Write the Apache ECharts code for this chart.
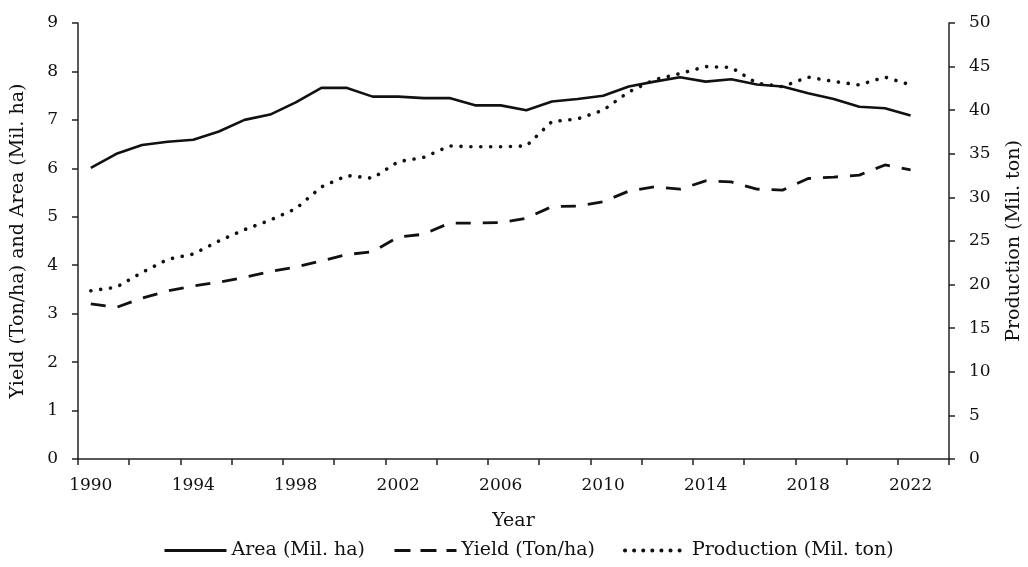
<!DOCTYPE html>
<html>
<head>
<meta charset="utf-8">
<script src="https://cdn.jsdelivr.net/npm/echarts@6/dist/echarts.min.js"></script>
<style>
  html, body { margin: 0; padding: 0; background: #fff; }
  #chart { width: 1028px; height: 567px; }
</style>
</head>
<body>
<div id="chart"></div>
<script>
// categories (2023 slot is empty, as in the source axis)
const years = ["1990","1991","1992","1993","1994","1995","1996","1997","1998","1999",
  "2000","2001","2002","2003","2004","2005","2006","2007","2008","2009",
  "2010","2011","2012","2013","2014","2015","2016","2017","2018","2019",
  "2020","2021","2022","2023"];

// Area (Mil. ha) - left axis
const area = [6.01, 6.30, 6.48, 6.55, 6.59, 6.76, 7.00, 7.11, 7.36, 7.66,
  7.66, 7.48, 7.48, 7.45, 7.45, 7.30, 7.30, 7.20, 7.38, 7.43,
  7.50, 7.69, 7.79, 7.88, 7.79, 7.84, 7.73, 7.69, 7.55, 7.43,
  7.27, 7.24, 7.09];

// Yield (Ton/ha) - left axis
const yieldTon = [3.20, 3.13, 3.32, 3.47, 3.57, 3.65, 3.75, 3.87, 3.96, 4.09,
  4.22, 4.28, 4.58, 4.64, 4.87, 4.87, 4.88, 4.97, 5.21, 5.22,
  5.31, 5.53, 5.62, 5.57, 5.74, 5.72, 5.57, 5.55, 5.79, 5.82,
  5.86, 6.07, 5.97];

// Production (Mil. ton) - right axis
const production = [19.3, 19.7, 21.4, 22.9, 23.5, 25.0, 26.3, 27.4, 28.7, 31.2,
  32.5, 32.2, 34.1, 34.6, 35.9, 35.8, 35.8, 35.9, 38.7, 39.0,
  40.0, 42.1, 43.5, 44.2, 45.0, 44.9, 43.1, 42.7, 43.8, 43.3,
  42.9, 43.8, 42.9];

const FONT = "DejaVu Serif";
const INK = "#111";
const AXIS = "#222";

const chart = echarts.init(document.getElementById("chart"));

const axisCommon = {
  axisLine: { show: true, lineStyle: { color: AXIS, width: 1.5 } },
  axisTick: { show: true, inside: false, length: 6, lineStyle: { color: AXIS, width: 1.5 } },
  splitLine: { show: false },
  nameTextStyle: { fontFamily: FONT, fontSize: 19, color: INK },
  axisLabel: { fontFamily: FONT, fontSize: 17, color: INK }
};

chart.setOption({
  animation: false,
  backgroundColor: "#fff",
  grid: { left: 78, right: 79, top: 23, bottom: 108, outerBoundsMode: "none" },
  legend: {
    bottom: 2,
    left: 158,
    itemWidth: 62,
    itemHeight: 12,
    itemGap: 28,
    itemStyle: { color: "transparent", borderWidth: 0 },
    lineStyle: { width: 3 },
    textStyle: { fontFamily: FONT, fontSize: 19, color: INK },
    data: [
      { name: "Area (Mil. ha)" },
      { name: "Yield (Ton/ha)", lineStyle: { width: 3, type: [16, 10] } },
      { name: "Production (Mil. ton)", lineStyle: { width: 4, type: [0.1, 9], cap: "round" } }
    ]
  },
  xAxis: {
    type: "category",
    data: years,
    boundaryGap: true,
    name: "Year",
    nameLocation: "middle",
    nameGap: 53,
    ...axisCommon,
    axisTick: { ...axisCommon.axisTick, interval: 1, alignWithLabel: false },
    axisLabel: { ...axisCommon.axisLabel, interval: 3, margin: 18 }
  },
  yAxis: [
    {
      type: "value",
      min: 0, max: 9, interval: 1,
      name: "Yield (Ton/ha) and Area (Mil. ha)",
      nameLocation: "middle",
      nameGap: 50,
      ...axisCommon,
      axisLabel: { ...axisCommon.axisLabel, margin: 20 }
    },
    {
      type: "value",
      position: "right",
      min: 0, max: 50, interval: 5,
      name: "Production (Mil. ton)",
      nameLocation: "middle",
      nameGap: 56,
      ...axisCommon,
      axisLabel: { ...axisCommon.axisLabel, margin: 20 }
    }
  ],
  series: [
    {
      name: "Area (Mil. ha)",
      type: "line",
      yAxisIndex: 0,
      data: area,
      symbol: "none",
      itemStyle: { color: INK },
      lineStyle: { color: INK, width: 2.6, type: "solid" }
    },
    {
      name: "Yield (Ton/ha)",
      type: "line",
      yAxisIndex: 0,
      data: yieldTon,
      symbol: "none",
      itemStyle: { color: INK },
      lineStyle: { color: INK, width: 2.8, type: [15, 12], cap: "butt" }
    },
    {
      name: "Production (Mil. ton)",
      type: "line",
      yAxisIndex: 1,
      data: production,
      symbol: "none",
      itemStyle: { color: INK },
      lineStyle: { color: INK, width: 3.6, type: [0.1, 9.8], cap: "round" }
    }
  ]
});
</script>
</body>
</html>
